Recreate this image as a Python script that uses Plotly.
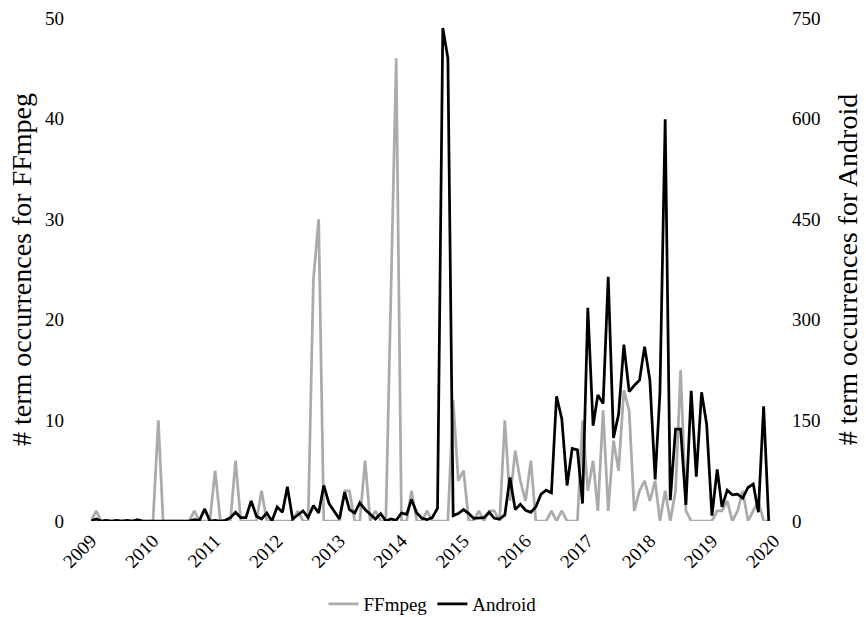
import pandas as pd
import plotly.graph_objects as go

months = pd.date_range("2009-01-01", "2019-12-01", freq="MS")

ffmpeg = [
    0, 1, 0, 0, 0, 0, 0, 0, 0, 0, 0, 0,          # 2009
    0, 10, 0, 0, 0, 0, 0, 0, 1, 0, 0, 0,         # 2010
    5, 0, 0, 0, 6, 0, 0, 0, 0, 3, 0, 0,          # 2011
    0, 0, 0, 0, 1, 0, 0, 24, 30, 0, 0, 0,        # 2012
    0, 3, 3, 0, 0, 6, 0, 1, 0, 0, 23, 46,        # 2013
    0, 0, 3, 0, 0, 1, 0, 0, 0, 0, 12, 4,         # 2014
    5, 0, 0, 1, 0, 1, 1, 0, 10, 2, 7, 4,         # 2015
    2, 6, 0, 0, 0, 1, 0, 1, 0, 0, 0, 10,         # 2016
    3, 6, 1, 11, 1, 8, 5, 13, 11, 1, 3, 4,       # 2017
    2, 4, 0, 3, 0, 3, 15, 1, 0, 0, 0, 0,         # 2018
    0, 1, 1, 2, 0, 1, 3, 0, 1, 2, 0, 0,          # 2019
]

android = [
    0, 3, 0, 1, 0, 1, 0, 1, 0, 2, 0, 0,                  # 2009
    0, 0, 0, 0, 0, 0, 0, 0, 2, 1, 18, 0,                 # 2010
    1, 0, 1, 5, 13, 5, 5, 30, 7, 3, 12, 0,               # 2011
    21, 13, 51, 3, 9, 15, 5, 23, 12, 53, 26, 15,         # 2012
    3, 43, 17, 12, 27, 17, 10, 3, 11, 0, 3, 1,           # 2013
    12, 10, 32, 12, 4, 2, 5, 19, 735, 690, 8, 11,        # 2014
    17, 11, 4, 4, 5, 13, 4, 3, 9, 65, 17, 25,            # 2015
    16, 13, 21, 40, 46, 42, 186, 152, 53, 108, 106, 26,  # 2016
    318, 142, 188, 175, 364, 124, 159, 263, 193, 202, 210, 260,  # 2017
    210, 62, 190, 599, 31, 137, 137, 24, 194, 66, 192, 144,      # 2018
    8, 77, 21, 46, 39, 40, 34, 50, 55, 13, 171, 0,               # 2019
]

year_ticks = pd.date_range("2009-01-01", "2020-01-01", freq="YS")
year_labels = [str(d.year) for d in year_ticks]

FONT = "Liberation Serif, Times New Roman, serif"

fig = go.Figure()
fig.add_trace(go.Scatter(
    x=months, y=ffmpeg, name="FFmpeg", mode="lines",
    line=dict(color="#AEAAAA", width=2.75), yaxis="y",
))
fig.add_trace(go.Scatter(
    x=months, y=android, name="Android", mode="lines",
    line=dict(color="#000000", width=2.75), yaxis="y2",
))

fig.update_layout(
    width=866, height=617,
    margin=dict(l=91, r=92, t=18, b=96, autoexpand=False),
    paper_bgcolor="white", plot_bgcolor="white",
    font=dict(family=FONT, color="#000000", size=19),
    showlegend=True,
    legend=dict(orientation="h", x=0.5, xanchor="center",
                yref="container", y=0.021, yanchor="middle",
                font=dict(size=19, family=FONT), itemwidth=30, tracegroupgap=0),
    xaxis=dict(
        type="date", range=["2009-01-01", "2020-01-01"],
        tickvals=list(year_ticks), ticktext=year_labels, tickangle=-45,
        showgrid=False, zeroline=False, showline=False, ticks="",
        tickfont=dict(size=19, family=FONT), ticklabelstandoff=4, automargin=False,
    ),
    yaxis=dict(
        range=[0, 50], dtick=10, showgrid=False, zeroline=False, showline=False,
        ticks="", tickfont=dict(size=19, family=FONT), ticklabelstandoff=26, automargin=False,
        title=dict(text="# term occurrences for FFmpeg", font=dict(size=28, family=FONT), standoff=5),
    ),
    yaxis2=dict(
        range=[0, 750], dtick=150, overlaying="y", side="right",
        showgrid=False, zeroline=False, showline=False, automargin=False,
        ticks="", tickfont=dict(size=19, family=FONT), ticklabelstandoff=17,
        title=dict(text="# term occurrences for Android", font=dict(size=28, family=FONT), standoff=17),
    ),
)

fig.write_html("out.html")
